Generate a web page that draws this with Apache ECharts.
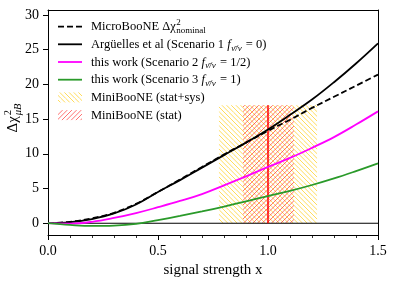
<!DOCTYPE html>
<html>
<head>
<meta charset="utf-8">
<script src="https://cdn.jsdelivr.net/npm/echarts@6/dist/echarts.min.js"></script>
<style>
html,body{margin:0;padding:0;background:#fff;}
#c{width:407px;height:281px;}
</style>
</head>
<body>
<div id="c"></div>
<script>
// ---- data ----
const xs = [0, 0.1, 0.2, 0.3, 0.4, 0.5, 0.6, 0.7, 0.8, 0.9, 1.0, 1.1, 1.2, 1.3, 1.4, 1.5];
const microBooNE = [0, 0.2, 0.7, 1.5, 2.8, 4.5, 6.3, 8.1, 9.9, 11.6, 13.3, 14.9, 16.6, 18.2, 19.8, 21.4];
const arguelles = [0, 0.15, 0.6, 1.4, 2.7, 4.5, 6.2, 8.0, 9.8, 11.6, 13.5, 15.6, 17.8, 20.3, 23.0, 25.9];
const scenario2 = [0, -0.05, 0.2, 0.75, 1.45, 2.3, 3.2, 4.2, 5.45, 6.75, 8.1, 9.4, 10.85, 12.4, 14.2, 16.1];
const scenario3 = [0, -0.25, -0.4, -0.35, -0.1, 0.45, 1.05, 1.7, 2.4, 3.15, 3.9, 4.65, 5.5, 6.45, 7.5, 8.6];
const statSysBand = [0.777, 1.223];
const statBand = [0.886, 1.118];
const bandTop = 17;
const bestFit = 1.0;
const yTicks = [0, 5, 10, 15, 20, 25, 30];
const xRange = [0, 1.5];
const yRange = [-1.7, 30.7];

const FONT = '"Liberation Serif", "Times New Roman", serif';

function hatch(color, dir, lw) {
  const c = document.createElement('canvas');
  const s = 14;
  c.width = s; c.height = s;
  const g = c.getContext('2d');
  g.strokeStyle = color;
  g.lineWidth = lw;
  for (let k = -4; k <= 8; k++) {
    const c0 = k * s / 3;
    g.beginPath();
    if (dir > 0) { g.moveTo(c0, 0); g.lineTo(c0 - s, s); }
    else { g.moveTo(c0, 0); g.lineTo(c0 + s, s); }
    g.stroke();
  }
  return c;
}
const yellowHatch = hatch('#FFD84A', -1, 0.9);
const redHatch = hatch('rgba(255,30,30,0.7)', 1, 0.9);

const mctx = document.createElement('canvas').getContext('2d');
function measure(t, size, italic) {
  mctx.font = (italic ? 'italic ' : '') + size + 'px ' + FONT;
  return mctx.measureText(t).width;
}
function textEl(t, x, y, size, italic, align) {
  return {
    type: 'text', x: x, y: y, silent: true,
    style: { text: t, fontSize: size, fontFamily: FONT, fontStyle: italic ? 'italic' : 'normal',
      fill: '#000', align: align || 'left', verticalAlign: 'middle' }
  };
}
function seq(segs, x, y) {
  const out = [];
  let cx = x;
  segs.forEach(s => {
    cx += (s.pad || 0);
    out.push(textEl(s.t, cx, y + (s.dy || 0), s.size, s.it));
    cx += measure(s.t, s.size, s.it);
  });
  return out;
}

const LX0 = 58, LX1 = 82, TX = 91, Y0 = 26.6, DY = 17.7, FS = 12.5, SS = 9;
const graphics = [];
// row 1
graphics.push({ type: 'line', silent: true, shape: { x1: LX0, y1: Y0, x2: LX1, y2: Y0 },
  style: { stroke: '#000', lineWidth: 1.8, lineDash: [6, 3] } });
const r1 = 'MicroBooNE Δχ';
graphics.push(textEl(r1, TX, Y0 + 0.5, FS));
const r1w = measure(r1, FS);
graphics.push(textEl('2', TX + r1w + 0.5, Y0 - 3.5, SS));
graphics.push(textEl('nominal', TX + r1w + 0.5, Y0 + 4.5, SS));
// rows 2-4
const lineRows = [
  { color: '#000', pre: 'Argüelles et al (Scenario 1 ', post: ' = 0)' },
  { color: '#FF00FF', pre: 'this work (Scenario 2 ', post: ' = 1/2)' },
  { color: '#2a9a2a', pre: 'this work (Scenario 3 ', post: ' = 1)' }
];
lineRows.forEach((r, i) => {
  const y = Y0 + DY * (i + 1);
  graphics.push({ type: 'line', silent: true, shape: { x1: LX0, y1: y, x2: LX1, y2: y },
    style: { stroke: r.color, lineWidth: 1.8 } });
  seq([
    { t: r.pre, size: FS },
    { t: 'f', size: FS, it: true },
    { t: 'ν̄/ν', size: SS, dy: 3.5, it: true, pad: 0.5 },
    { t: r.post, size: FS, pad: 1 }
  ], TX, y + 0.5).forEach(e => graphics.push(e));
});
// rows 5-6 patches
[[yellowHatch, 'MiniBooNE (stat+sys)'], [redHatch, 'MiniBooNE (stat)']].forEach((p, i) => {
  const y = Y0 + DY * (i + 4);
  graphics.push({ type: 'rect', silent: true, shape: { x: LX0, y: y - 5, width: LX1 - LX0, height: 10 },
    style: { fill: { image: p[0], repeat: 'repeat' } } });
  graphics.push(textEl(p[1], TX, y + 0.5, FS));
});
// x axis title
graphics.push(textEl('signal strength x', 213, 270, 15, false, 'center'));
// y axis title (rotated group)
const yl1 = 'Δχ', ylS = 10.5;
const w1 = measure(yl1, 15), w2 = Math.max(measure('2', ylS), measure('μB', ylS, true));
const tw = w1 + w2 + 1;
graphics.push({
  type: 'group', x: 13, y: 118, rotation: Math.PI / 2, silent: true,
  children: [
    textEl(yl1, -tw / 2, 0, 15),
    textEl('2', -tw / 2 + w1 + 1, -4.5, ylS),
    textEl('μB', -tw / 2 + w1 + 1, 5, ylS, true)
  ]
});

const bandData = [
  [statSysBand[0], statSysBand[1], bandTop, 0],
  [statBand[0], statBand[1], bandTop, 1]
];

function curve(name, data, color, dash) {
  return {
    name: name, type: 'line', data: xs.map((x, i) => [x, data[i]]),
    showSymbol: false, smooth: 0.4, z: 5, silent: true,
    lineStyle: { color: color, width: 1.8, type: dash ? [6, 3] : 'solid' }
  };
}

const axisFont = { fontFamily: FONT, fontSize: 14, color: '#000' };
const option = {
  animation: false,
  backgroundColor: '#fff',
  grid: { left: 48, right: 29, top: 10, bottom: 46 },
  xAxis: [{
    type: 'value', min: xRange[0], max: xRange[1], interval: 0.5,
    axisLine: { show: true, onZero: false, lineStyle: { color: '#000', width: 1 } },
    axisTick: { show: true, inside: false, length: 5, lineStyle: { color: '#000', width: 1 } },
    minorTick: { show: true, splitNumber: 5, length: 3, lineStyle: { color: '#000', width: 0.8 } },
    axisLabel: Object.assign({ margin: 9, formatter: v => v.toFixed(1) }, axisFont),
    splitLine: { show: false }, minorSplitLine: { show: false }
  }, {
    type: 'value', position: 'top', min: xRange[0], max: xRange[1],
    axisLine: { show: true, onZero: false, lineStyle: { color: '#000', width: 1 } },
    axisTick: { show: false }, axisLabel: { show: false }, splitLine: { show: false }
  }],
  yAxis: [{
    type: 'value', min: yRange[0], max: yRange[1],
    axisLine: { show: true, onZero: false, lineStyle: { color: '#000', width: 1 } },
    axisTick: { show: true, inside: false, length: 5, customValues: yTicks, lineStyle: { color: '#000', width: 1 } },
    axisLabel: Object.assign({ margin: 9, customValues: yTicks }, axisFont),
    splitLine: { show: false }
  }, {
    type: 'value', position: 'right', min: yRange[0], max: yRange[1],
    axisLine: { show: true, onZero: false, lineStyle: { color: '#000', width: 1 } },
    axisTick: { show: false }, axisLabel: { show: false }, splitLine: { show: false }
  }],
  series: [
    {
      type: 'custom', silent: true, z: 2,
      data: bandData,
      renderItem: function (params, api) {
        const p0 = api.coord([api.value(0), 0]);
        const p1 = api.coord([api.value(1), api.value(2)]);
        const img = api.value(3) === 0 ? yellowHatch : redHatch;
        return {
          type: 'rect',
          shape: { x: p0[0], y: p1[1], width: p1[0] - p0[0], height: p0[1] - p1[1] },
          style: { fill: { image: img, repeat: 'repeat' } }
        };
      }
    },
    {
      type: 'line', silent: true, z: 3, showSymbol: false,
      data: [[xRange[0], 0], [xRange[1], 0]],
      lineStyle: { color: '#000', width: 1.1 }
    },
    {
      type: 'line', silent: true, z: 3, showSymbol: false,
      data: [[bestFit, 0], [bestFit, bandTop]],
      lineStyle: { color: '#FF0000', width: 1.5 }
    },
    curve('MicroBooNE', microBooNE, '#000', true),
    curve('Arguelles', arguelles, '#000', false),
    curve('Scenario 2', scenario2, '#FF00FF', false),
    curve('Scenario 3', scenario3, '#2a9a2a', false)
  ],
  graphic: graphics
};
const chart = echarts.init(document.getElementById('c'), null, { renderer: 'canvas' });
chart.setOption(option);
</script>
</body>
</html>
